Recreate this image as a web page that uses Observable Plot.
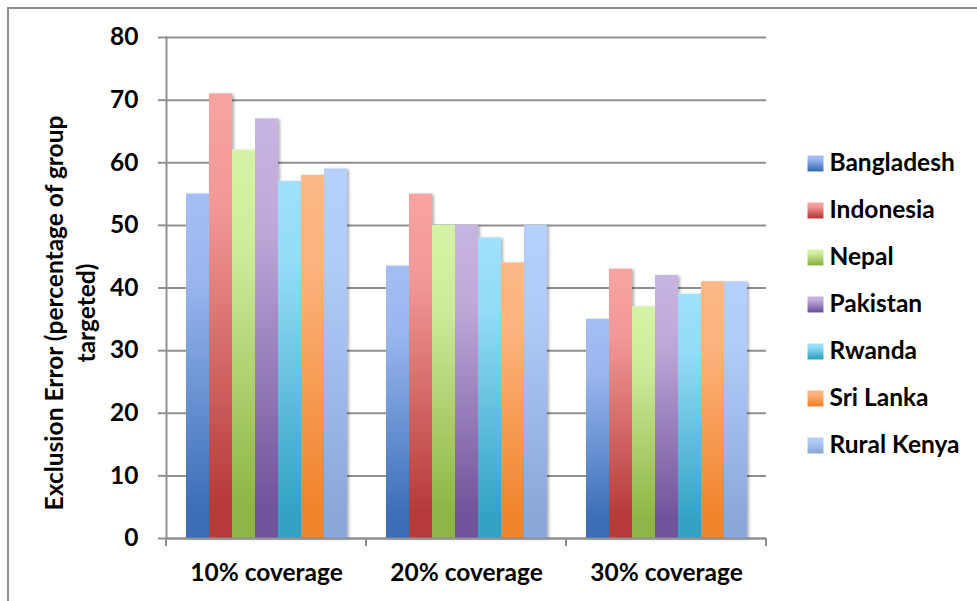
<!DOCTYPE html>
<html>
<head>
<meta charset="utf-8">
<script src="https://cdn.jsdelivr.net/npm/d3@7"></script>
<script src="https://cdn.jsdelivr.net/npm/@observablehq/plot@0.6"></script>
<style>
  body { margin: 0; background: #fff; }
  #wrap { position: relative; width: 977px; height: 601px; overflow: hidden; background: #fff; }
  #border { position: absolute; left: 7px; top: 7px; width: 990px; height: 610px;
            border-left: 2px solid #8f8f8f; border-top: 2px solid #8f8f8f; }
  #wrap svg { position: absolute; }
</style>
</head>
<body>
<div id="wrap"><div id="border"></div></div>
<script>
// Coverage groups along the x axis
const groups = ["10% coverage", "20% coverage", "30% coverage"];
// Countries (series)
const countries = ["Bangladesh", "Indonesia", "Nepal", "Pakistan", "Rwanda", "Sri Lanka", "Rural Kenya"];
// Exclusion error per country, one value per coverage group
const bangladesh = [55, 43.5, 35];
const indonesia  = [71, 55, 43];
const nepal      = [62, 50, 37];
const pakistan   = [67, 50, 42];
const rwanda     = [57, 48, 39];
const sriLanka   = [58, 44, 41];
const ruralKenya = [59, 50, 41];
// Y axis ticks
const yTicks = [0, 10, 20, 30, 40, 50, 60, 70, 80];
// Axis title (two lines)
const yTitle = ["Exclusion Error (percentage of group", "targeted)"];
// Gradient colours per country (light top, dark bottom)
const topColors    = ["#a5bef5", "#f8a3a2", "#d5f3a4", "#c6b4e1", "#9ee1fc", "#fdb886", "#b6d0fe"];
const bottomColors = ["#3a6eb7", "#b73a3a", "#8db546", "#71539c", "#33a3c4", "#f0842c", "#8aa8da"];

const FONT = "Lato, 'Open Sans', sans-serif";
const FS = 24.5;
const series = [bangladesh, indonesia, nepal, pakistan, rwanda, sriLanka, ruralKenya];
const rows = groups.flatMap((g, gi) => countries.map((c, ci) => ({group: g, country: c, value: series[ci][gi]})));
const fills = countries.map((c, i) => `url(#grad-${i})`);

// Shared gradient + shadow definitions
const wrap = d3.select("#wrap");
const defsSvg = wrap.append("svg").attr("width", 0).attr("height", 0).style("left", 0).style("top", 0);
const defs = defsSvg.append("defs");
countries.forEach((c, i) => {
  const lg = defs.append("linearGradient").attr("id", `grad-${i}`)
    .attr("x1", 0).attr("y1", 0).attr("x2", 0).attr("y2", 1);
  lg.append("stop").attr("offset", 0).attr("stop-color", topColors[i]);
  lg.append("stop").attr("offset", 0.25).attr("stop-color", d3.interpolateRgb(topColors[i], bottomColors[i])(0.1));
  lg.append("stop").attr("offset", 0.92).attr("stop-color", bottomColors[i]);
  lg.append("stop").attr("offset", 1).attr("stop-color", bottomColors[i]);
});
const sh = defs.append("filter").attr("id", "barshadow").attr("x", "-20%").attr("y", "-5%").attr("width", "150%").attr("height", "115%");
sh.append("feDropShadow").attr("dx", 2).attr("dy", 1).attr("stdDeviation", 1.5)
  .attr("flood-color", "#000").attr("flood-opacity", 0.3);

const GRID = "#8f8f8f";

const chart = Plot.plot({
  width: 977,
  height: 601,
  marginLeft: 166,
  marginRight: 211,
  marginTop: 37,
  marginBottom: 63,
  style: {fontFamily: FONT, fontSize: `${FS}px`, fontWeight: "bold", color: "#000", background: "transparent", overflow: "visible"},
  fx: {domain: groups, padding: 0, label: null, axis: null},
  x: {domain: countries, paddingInner: 0, paddingOuter: 0.74, axis: null},
  y: {domain: [0, 80], label: null, axis: null},
  color: {domain: countries, range: fills},
  marks: [
    Plot.gridY(yTicks, {stroke: GRID, strokeWidth: 2, strokeOpacity: 1}),
    Plot.barY(rows, {fx: "group", x: "country", y: "value", fill: "country"}),
    Plot.ruleY([0], {stroke: GRID, strokeWidth: 2}),
    Plot.frame({anchor: "left", facetAnchor: "left", stroke: GRID, strokeWidth: 2}),
    Plot.axisY(yTicks, {tickSize: 8, tickPadding: 20, stroke: GRID, strokeWidth: 2, fontSize: FS, fontWeight: "bold", label: null, tickFormat: d => d}),
    Plot.axisFx({anchor: "bottom", tickSize: 0, tickPadding: 25, fontSize: FS, fontWeight: "bold", label: null})
  ]
});
chart.style.left = "0px";
chart.style.top = "0px";
wrap.node().appendChild(chart);

const svg = d3.select(chart);
svg.selectAll("g[aria-label='bar']").attr("filter", "url(#barshadow)");

// Category separator ticks below the x axis, from the fx scale
const fx = chart.scale("fx");
const y = chart.scale("y");
const [r0, r1] = fx.range;
const step = (r1 - r0) / groups.length;
const y0 = y.range[0];
const ticks = svg.append("g").attr("stroke", GRID).attr("stroke-width", 2);
d3.range(groups.length + 1).forEach(i => {
  const x = r0 + i * step;
  ticks.append("line").attr("x1", x).attr("x2", x).attr("y1", y0).attr("y2", y0 + 8);
});

// Rotated y-axis title, centred a little below the middle of the plot
const yMid = 313;
const title = svg.append("g").attr("font-family", FONT).attr("font-weight", "bold").attr("font-size", FS).attr("fill", "#000");
[63, 95].forEach((bx, i) => {
  title.append("text").attr("transform", `translate(${bx},${yMid}) rotate(-90)`)
    .attr("text-anchor", "middle").text(yTitle[i]);
});

// Legend
const legend = Plot.plot({
  width: 177,
  height: 331,
  margin: 0,
  style: {fontFamily: FONT, fontSize: `${FS}px`, fontWeight: "bold", color: "#000", background: "transparent", overflow: "visible"},
  y: {domain: countries, type: "point", padding: 0.5, axis: null},
  color: {domain: countries, range: fills},
  marks: [
    Plot.dot(countries, {y: d => d, fill: d => d, symbol: "square", r: 9, frameAnchor: "left", dx: 15, stroke: null}),
    Plot.text(countries, {y: d => d, text: d => d, frameAnchor: "left", dx: 29, textAnchor: "start", fontSize: FS, fontWeight: "bold", fill: "#000"})
  ]
});
legend.style.left = "800px";
legend.style.top = "138px";
wrap.node().appendChild(legend);
</script>
</body>
</html>
